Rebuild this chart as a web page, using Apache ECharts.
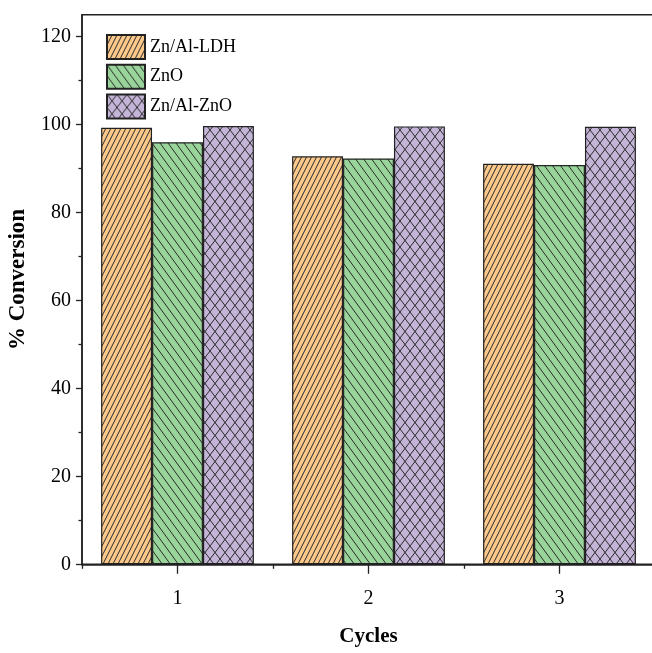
<!DOCTYPE html>
<html>
<head>
<meta charset="utf-8">
<script src="https://cdn.jsdelivr.net/npm/echarts@6/dist/echarts.min.js"></script>
<style>html,body{margin:0;padding:0;background:#fff;}#c{width:652px;height:653px;}</style>
</head>
<body>
<div id="c"></div>
<script>
const categories = ['1', '2', '3'];
const seriesNames = ['Zn/Al-LDH', 'ZnO', 'Zn/Al-ZnO'];
const znAlLdh = [99.3, 92.8, 91.1];
const znO = [96.0, 92.3, 90.8];
const znAlZnO = [99.7, 99.6, 99.5];
const yMajorTicks = [0, 20, 40, 60, 80, 100, 120];
const yMinorTicks = [10, 30, 50, 70, 90, 110];

function makePattern(bg, w, h, kind) {
  const c = document.createElement('canvas');
  c.width = w; c.height = h;
  const g = c.getContext('2d');
  g.fillStyle = bg; g.fillRect(0, 0, w, h);
  g.strokeStyle = '#2b2b2b'; g.lineWidth = 1;
  const seg = (x1, y1, x2, y2) => { g.beginPath(); g.moveTo(x1, y1); g.lineTo(x2, y2); g.stroke(); };
  if (kind === 'fwd' || kind === 'cross') {
    for (let k = -1; k <= 1; k++) seg(k * w, h, k * w + w, 0);
  }
  if (kind === 'back' || kind === 'cross') {
    for (let k = -1; k <= 1; k++) seg(k * w, 0, k * w + w, h);
  }
  return { image: c, repeat: 'repeat' };
}

const patterns = [
  makePattern('#FDC98B', 5, 10, 'fwd'),
  makePattern('#99D59A', 8, 11, 'back'),
  makePattern('#C4B4D8', 10, 13, 'cross')
];
const values = [znAlLdh, znO, znAlZnO];

const font = 'Liberation Serif';
const tickStyle = { color: '#222', width: 1.3 };
const chart = echarts.init(document.getElementById('c'), null, { renderer: 'canvas' });
chart.setOption({
  animation: false,
  backgroundColor: '#fff',
  grid: {
    left: 82, top: 14.7, width: 573, height: 549.6,
    containLabel: false, outerBoundsMode: 'none',
    show: true, borderColor: '#222', borderWidth: 1.5, backgroundColor: 'transparent'
  },
  legend: {
    orient: 'vertical', left: 101, top: 29, itemWidth: 38, itemHeight: 24, itemGap: 3.7,
    icon: 'rect',
    textStyle: { fontFamily: font, fontSize: 18, color: '#000' },
    data: seriesNames
  },
  xAxis: [
    {
      type: 'category', data: categories, position: 'bottom',
      axisLine: { show: true, lineStyle: { color: '#222', width: 1.5 } },
      axisTick: { show: true, alignWithLabel: true, length: 9.5, lineStyle: tickStyle },
      axisLabel: { fontFamily: font, fontSize: 20, color: '#000', margin: 24 },
      name: 'Cycles', nameLocation: 'middle', nameGap: 62,
      nameTextStyle: { fontFamily: font, fontSize: 21, fontWeight: 'bold', color: '#000' }
    },
    {
      type: 'category', data: categories, position: 'bottom',
      axisLine: { show: false },
      axisTick: { show: true, alignWithLabel: false, length: 4.5, lineStyle: tickStyle },
      axisLabel: { show: false }
    }
  ],
  yAxis: [
    {
      type: 'value', min: 0, max: 125, position: 'left',
      splitLine: { show: false },
      axisLine: { show: true, lineStyle: { color: '#222', width: 1.5 } },
      axisTick: { show: true, length: 6, customValues: yMajorTicks, lineStyle: tickStyle },
      axisLabel: { customValues: yMajorTicks, fontFamily: font, fontSize: 20, color: '#000', margin: 11 },
      name: '% Conversion', nameLocation: 'middle', nameGap: 52,
      nameTextStyle: { fontFamily: font, fontSize: 23, fontWeight: 'bold', color: '#000', padding: [0, 0, 0, 20] }
    },
    {
      type: 'value', min: 0, max: 125, position: 'left',
      splitLine: { show: false },
      axisLine: { show: false },
      axisTick: { show: true, length: 3.5, customValues: yMinorTicks, lineStyle: tickStyle },
      axisLabel: { show: false }
    }
  ],
  series: seriesNames.map((n, i) => ({
    name: n, type: 'bar', xAxisIndex: 0, yAxisIndex: 0,
    data: values[i],
    barGap: '0%', barCategoryGap: '20%',
    itemStyle: { color: patterns[i], borderColor: '#222', borderWidth: 1.2 }
  }))
});
</script>
</body>
</html>
